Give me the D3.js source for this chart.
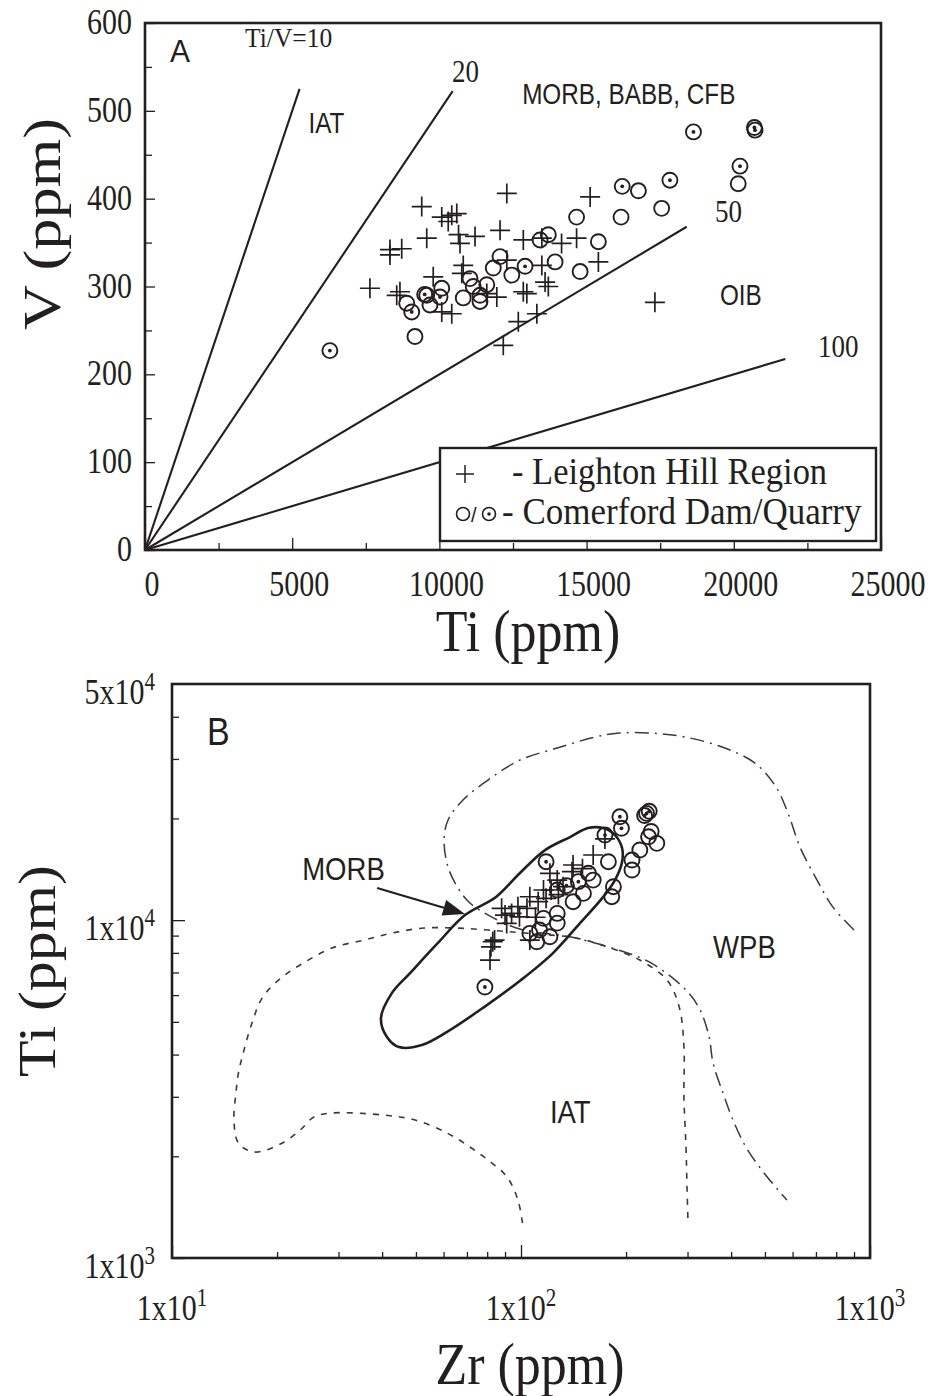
<!DOCTYPE html>
<html>
<head>
<meta charset="utf-8">
<script src="https://cdn.jsdelivr.net/npm/d3@7"></script>
<style>
  body { margin: 0; background: #fff; }
  svg { display: block; }
</style>
</head>
<body>
<svg id="chart" width="934" height="1396"></svg>
<script>
// ---------------------------
// Data
// ---------------------------

// Panel A – Ti vs V (ppm)
const tiVCross = [
  [12290, 406], [9400, 391], [10080, 379], [10420, 381], [10590, 383], [10300, 374],
  [9570, 355], [10650, 359], [11210, 357], [12060, 364], [10700, 349], [12850, 353],
  [8320, 342], [8720, 343], [8320, 336], [10810, 324], [10760, 315], [12290, 330],
  [9790, 311], [7640, 298], [8660, 294], [8550, 290], [10080, 271], [10420, 269],
  [11610, 292], [11950, 288], [12970, 292], [12680, 260], [12170, 233], [13310, 269],
  [15120, 402], [13480, 355], [14150, 349], [14660, 355], [15400, 328], [13480, 324],
  [12850, 294], [13700, 300], [13590, 305], [17320, 282]
];
const tiVCircle = [
  [14660, 379], [16170, 379], [17550, 389], [16760, 409], [15400, 351], [14780, 317],
  [20150, 417], [13930, 328], [13700, 359], [13420, 353], [12060, 334], [11830, 321],
  [12460, 313], [11040, 309], [11150, 300], [11610, 302], [11380, 290], [10810, 287],
  [11380, 283], [10080, 298], [9570, 290], [9680, 279], [8890, 281], [9170, 243]
];
const tiVDotted = [
  [18630, 476], [20720, 478], [20700, 481], [20210, 437], [16210, 414], [17830, 421],
  [12910, 323], [10020, 288], [9500, 291], [9060, 271], [6280, 227]
];

// Ti/V reference lines: ratio and Ti where each line stops
const tiVRatios = [10, 20, 50, 100];
const tiVRatioEndTi = [5250, 10450, 18400, 21750];
const tiVRatioLabels = ["Ti/V=10", "20", "50", "100"];
const tiVRatioLabelAt = [[3400, 573], [10430, 533], [19360, 373], [22860, 220]];

const tiVFields = ["IAT", "MORB, BABB, CFB", "OIB"];
const tiVFieldAt = [[5550, 475], [12810, 508], [19530, 279]];

const tiTicks = [0, 5000, 10000, 15000, 20000, 25000];
const tiMinorTicks = [2500, 7500, 12500, 17500, 22500];
const vTicks = [0, 100, 200, 300, 400, 500, 600];
const vMinorTicks = [50, 150, 250, 350, 450, 550];

// Panel B – Zr vs Ti (ppm), log-log
const zrTiCross = [
  [161, 15590], [140, 13910], [141, 14560], [127, 13140], [121, 13760], [132, 12560],
  [122, 12280], [116, 12280], [112, 11340], [106, 11730], [118, 11600], [104, 10840],
  [98, 10960], [99, 10230], [94, 10470], [90, 10350], [88, 10840], [91, 9780],
  [106, 8730], [84, 8730], [83, 8630], [82, 8340], [81.5, 7620], [174, 17400],
  [150, 14200], [128, 11900], [110, 10200]
];
const zrTiCircle = [
  [232, 17650], [245, 16880], [219, 16130], [208, 15060], [208, 14070], [184, 12560],
  [182, 11730], [178, 14890], [156, 13760], [161, 13140], [151, 12000], [141, 11340],
  [127, 12280], [127, 10470], [127, 9800], [116, 10120], [113, 9350], [106, 9140],
  [111, 8630], [121, 8930], [236, 18300]
];
const zrTiDotted = [
  [192, 20230], [194, 18700], [229, 20700], [233, 21000], [226, 20400], [174, 17860],
  [118, 14890], [78.8, 6340], [146, 13000], [135, 12650]
];

// discrimination fields, as (Zr, Ti)
const morbField = [
  [39.7, 5130], [41.3, 4510], [44.7, 4210], [52.0, 4270], [61.4, 4670], [78.4, 5530],
  [100, 6650], [123.5, 7990], [147.6, 9800], [171.8, 11700], [185.9, 13140], [194.8, 14860],
  [194.8, 16350], [185.9, 17860], [171.8, 18730], [155.6, 18730], [138.2, 17620],
  [117.2, 16120], [99.3, 13790], [84.8, 11710], [69.1, 10350], [57.8, 8560], [48.1, 6970],
  [42.7, 6090]
];
const wpbField = [
  [900, 9350], [783, 10930], [705, 13140], [630, 16460], [582, 20750], [538, 24770],
  [468, 29170], [377, 32530], [295, 34830], [237, 35790], [191, 35790], [163, 34830],
  [127, 32310], [99.3, 29780], [80.4, 25980], [68.2, 22670], [61.8, 19780], [60.2, 17260],
  [61.8, 14360], [66.0, 12450], [71.4, 11240], [81.5, 10280], [99.3, 9410], [139, 8910],
  [182, 8270], [233, 7520], [297, 6210], [326, 5420], [346, 4510], [355, 3780],
  [379, 3080], [402, 2610], [441, 2130], [497, 1785], [578, 1484]
];
const iatField = [
  [101, 1269], [98.0, 1484], [91.2, 1737], [80.4, 1950], [71.4, 2131], [61.4, 2344],
  [49.7, 2561], [40.2, 2650], [28.7, 2686], [25.5, 2614], [23.3, 2392], [20.7, 2190],
  [17.2, 2059], [15.5, 2190], [15.05, 2561], [15.25, 3078], [15.5, 3528], [16.0, 4044],
  [16.95, 4960], [18.2, 5921], [20.7, 6786], [24.05, 7517], [28.7, 8268], [35.5, 8732],
  [42.7, 9158], [52.7, 9476], [65.1, 9476], [80.4, 9347], [102.7, 9158], [143.7, 8852],
  [177.5, 8324], [219, 7620], [262, 6649], [284, 5533], [293, 4211], [293, 2995],
  [297, 2131], [299, 1623], [301, 1269]
];
const morbArrow = [[38.7, 12450], [69.1, 10425]];

const zrTiFields = ["MORB", "WPB", "IAT"];
const zrTiFieldAt = [[23.6, 13140], [355, 7724], [121, 2509]];

const zrTicks = [10, 100, 1000];
const zrMinorTicks = [20, 30, 40, 50, 60, 70, 80, 90, 200, 300, 400, 500, 600, 700, 800, 900];
const tiLogTicks = [1000, 10000];
const tiLogMinorTicks = [2000, 3000, 4000, 5000, 6000, 7000, 8000, 9000, 20000, 30000, 40000];
const tiLogLabels = [[1000, "1", "3"], [10000, "1", "4"], [50000, "5", "4"]];
const zrLabels = [[10, "1", "1"], [100, "1", "2"], [1000, "1", "3"]];

// ---------------------------
// Styling helpers
// ---------------------------
const INK = "#231f20";
const SERIF = "'Liberation Serif','Times New Roman',serif";
const SANS = "'Liberation Sans',Arial,sans-serif";
const STRETCH = 1.17; // the printed figure is a little taller than wide

const svg = d3.select("#chart");

function label(g, txt, x, y, o = {}) {
  return g.append("text")
    .attr("transform", `translate(${x},${y}) rotate(${o.rotate || 0}) scale(${o.sx || 1},${o.sy || 1})`)
    .attr("font-family", o.sans ? SANS : SERIF)
    .attr("font-size", o.size || 30)
    .attr("text-anchor", o.anchor || "start")
    .attr("fill", INK)
    .text(txt);
}

function sciLabel(g, mant, exp, x, y, anchor) {
  const t = g.append("text")
    .attr("transform", `translate(${x},${y}) scale(1,${STRETCH})`)
    .attr("font-family", SERIF).attr("font-size", 30)
    .attr("text-anchor", anchor).attr("fill", INK);
  t.append("tspan").text(`${mant}x10`);
  t.append("tspan").attr("dy", -12).attr("font-size", 21).text(exp);
}

function styleTicks(sel) {
  sel.select(".domain").remove();
  sel.selectAll(".tick line").attr("stroke", INK).attr("stroke-width", 1.3);
}

function drawSymbols(g, x, y, cross, circle, dotted) {
  g.append("g").selectAll("path").data(cross).join("path")
    .attr("transform", d => `translate(${x(d[0])},${y(d[1])})`)
    .attr("d", "M-10,0H10M0,-10V10")
    .attr("stroke", INK).attr("stroke-width", 1.7).attr("fill", "none");
  g.append("g").selectAll("circle").data(circle.concat(dotted)).join("circle")
    .attr("cx", d => x(d[0])).attr("cy", d => y(d[1])).attr("r", 7.5)
    .attr("stroke", INK).attr("stroke-width", 1.9).attr("fill", "none");
  g.append("g").selectAll("circle").data(dotted).join("circle")
    .attr("cx", d => x(d[0])).attr("cy", d => y(d[1])).attr("r", 1.9)
    .attr("fill", INK);
}

// ---------------------------
// Panel A
// ---------------------------
const xA = d3.scaleLinear().domain([0, 25000]).range([145, 881]);
const yA = d3.scaleLinear().domain([0, 600]).range([550, 23]);
const gA = svg.append("g");

gA.append("g").attr("transform", `translate(0,${yA(0)})`)
  .call(d3.axisBottom(xA).tickValues(tiMinorTicks).tickSize(-7).tickSizeOuter(0).tickFormat(""))
  .call(styleTicks);
gA.append("g").attr("transform", `translate(0,${yA(0)})`)
  .call(d3.axisBottom(xA).tickValues(tiTicks).tickSize(-12).tickSizeOuter(0).tickFormat(""))
  .call(styleTicks);
gA.append("g").attr("transform", `translate(${xA(0)},0)`)
  .call(d3.axisLeft(yA).tickValues(vMinorTicks).tickSize(-7).tickSizeOuter(0).tickFormat(""))
  .call(styleTicks);
gA.append("g").attr("transform", `translate(${xA(0)},0)`)
  .call(d3.axisLeft(yA).tickValues(vTicks).tickSize(-10).tickSizeOuter(0).tickFormat(""))
  .call(styleTicks);

tiTicks.forEach(v => label(gA, String(v), xA(v) + 7, yA(0) + 46, { anchor: "middle", sy: STRETCH }));
vTicks.forEach(v => label(gA, String(v), xA(0) - 13, yA(v) + 11, { anchor: "end", sy: STRETCH }));

gA.append("rect")
  .attr("x", xA(0)).attr("y", yA(600))
  .attr("width", xA(25000) - xA(0)).attr("height", yA(0) - yA(600))
  .attr("fill", "none").attr("stroke", INK).attr("stroke-width", 2.6);

// Ti/V ratio lines from the origin
gA.append("g").selectAll("line").data(tiVRatios).join("line")
  .attr("x1", xA(0)).attr("y1", yA(0))
  .attr("x2", (r, i) => xA(tiVRatioEndTi[i]))
  .attr("y2", (r, i) => yA(tiVRatioEndTi[i] / r))
  .attr("stroke", INK).attr("stroke-width", 2.1);

tiVRatioLabels.forEach((t, i) =>
  label(gA, t, xA(tiVRatioLabelAt[i][0]), yA(tiVRatioLabelAt[i][1]), { size: i ? 27 : 25.5, sy: i ? STRETCH : 1.08 }));
tiVFields.forEach((t, i) =>
  label(gA, t, xA(tiVFieldAt[i][0]), yA(tiVFieldAt[i][1]), { sans: true, size: 27, sx: 0.9, sy: 1.08 }));
label(gA, "A", 170, 62, { sans: true, size: 30, sy: 1.05 });

drawSymbols(gA, xA, yA, tiVCross, tiVCircle, tiVDotted);

// legend
const lg = gA.append("g");
lg.append("rect").attr("x", 440).attr("y", 448).attr("width", 436).attr("height", 93)
  .attr("fill", "#fff").attr("stroke", INK).attr("stroke-width", 2.4);
lg.append("path").attr("d", "M456,474H474M465,465V483")
  .attr("stroke", INK).attr("stroke-width", 1.5);
label(lg, "- Leighton Hill Region", 512, 484, { size: 34.5, sy: 1.1 });
lg.append("circle").attr("cx", 463).attr("cy", 514).attr("r", 6.5)
  .attr("fill", "none").attr("stroke", INK).attr("stroke-width", 1.6);
label(lg, "/", 471, 522, { sans: true, size: 20 });
lg.append("circle").attr("cx", 489).attr("cy", 514).attr("r", 6.5)
  .attr("fill", "none").attr("stroke", INK).attr("stroke-width", 1.6);
lg.append("circle").attr("cx", 489).attr("cy", 514).attr("r", 1.8).attr("fill", INK);
label(lg, "- Comerford Dam/Quarry", 502, 524, { size: 35, sy: 1.1 });

label(gA, "V (ppm)", 60, 224, { size: 52, rotate: -90, anchor: "middle", sx: 1.2 });
label(gA, "Ti (ppm)", 528, 651, { size: 52, anchor: "middle", sy: 1.15 });

// ---------------------------
// Panel B
// ---------------------------
const xB = d3.scaleLog().domain([10, 1000]).range([172, 870]);
const yB = d3.scaleLog().domain([1000, 50000]).range([1258, 684]);
const gB = svg.append("g");

gB.append("g").attr("transform", `translate(0,${yB(1000)})`)
  .call(d3.axisBottom(xB).tickValues(zrMinorTicks).tickSize(-6).tickSizeOuter(0).tickFormat(""))
  .call(styleTicks);
gB.append("g").attr("transform", `translate(0,${yB(1000)})`)
  .call(d3.axisBottom(xB).tickValues(zrTicks).tickSize(-13).tickSizeOuter(0).tickFormat(""))
  .call(styleTicks);
gB.append("g").attr("transform", `translate(${xB(10)},0)`)
  .call(d3.axisLeft(yB).tickValues(tiLogMinorTicks).tickSize(-7).tickSizeOuter(0).tickFormat(""))
  .call(styleTicks);
gB.append("g").attr("transform", `translate(${xB(10)},0)`)
  .call(d3.axisLeft(yB).tickValues(tiLogTicks).tickSize(-13).tickSizeOuter(0).tickFormat(""))
  .call(styleTicks);

tiLogLabels.forEach(([v, m, e]) => sciLabel(gB, m, e, xB(10) - 17, yB(v) + 20, "end"));
zrLabels.forEach(([v, m, e]) => sciLabel(gB, m, e, xB(v), 1320, "middle"));

gB.append("rect")
  .attr("x", xB(10)).attr("y", yB(50000))
  .attr("width", xB(1000) - xB(10)).attr("height", yB(1000) - yB(50000))
  .attr("fill", "none").attr("stroke", INK).attr("stroke-width", 2.6);

const lineB = d3.line().x(d => xB(d[0])).y(d => yB(d[1]));

gB.append("path").datum(iatField)
  .attr("d", lineB.curve(d3.curveCatmullRom.alpha(0.5)))
  .attr("fill", "none").attr("stroke", "#3a3a3a").attr("stroke-width", 1.6)
  .attr("stroke-dasharray", "6,7");
gB.append("path").datum(wpbField)
  .attr("d", lineB.curve(d3.curveCatmullRom.alpha(0.5)))
  .attr("fill", "none").attr("stroke", "#3a3a3a").attr("stroke-width", 1.5)
  .attr("stroke-dasharray", "14,6,2,6");
gB.append("path").datum(morbField)
  .attr("d", lineB.curve(d3.curveCatmullRomClosed.alpha(0.5)))
  .attr("fill", "none").attr("stroke", INK).attr("stroke-width", 2.6);

drawSymbols(gB, xB, yB, zrTiCross, zrTiCircle, zrTiDotted);

// MORB arrow
const a0 = [xB(morbArrow[0][0]), yB(morbArrow[0][1])];
const a1 = [xB(morbArrow[1][0]), yB(morbArrow[1][1])];
const ang = Math.atan2(a1[1] - a0[1], a1[0] - a0[0]);
const headLen = 22, headW = 8;
const hb = [a1[0] - headLen * Math.cos(ang), a1[1] - headLen * Math.sin(ang)];
gB.append("line").attr("x1", a0[0]).attr("y1", a0[1]).attr("x2", hb[0]).attr("y2", hb[1])
  .attr("stroke", INK).attr("stroke-width", 2.2);
gB.append("path")
  .attr("d", `M${a1[0]},${a1[1]}L${hb[0] - headW * Math.sin(ang)},${hb[1] + headW * Math.cos(ang)}L${hb[0] + headW * Math.sin(ang)},${hb[1] - headW * Math.cos(ang)}Z`)
  .attr("fill", INK);

zrTiFields.forEach((t, i) =>
  label(gB, t, xB(zrTiFieldAt[i][0]), yB(zrTiFieldAt[i][1]), { sans: true, size: 29, sx: 0.95, sy: 1.1 }));
label(gB, "B", 207, 745, { sans: true, size: 34, sy: 1.12 });

label(gB, "Ti (ppm)", 55, 971, { size: 52, rotate: -90, anchor: "middle", sx: 1.15 });
label(gB, "Zr (ppm)", 530, 1384, { size: 52, anchor: "middle", sy: 1.15 });
</script>
</body>
</html>
